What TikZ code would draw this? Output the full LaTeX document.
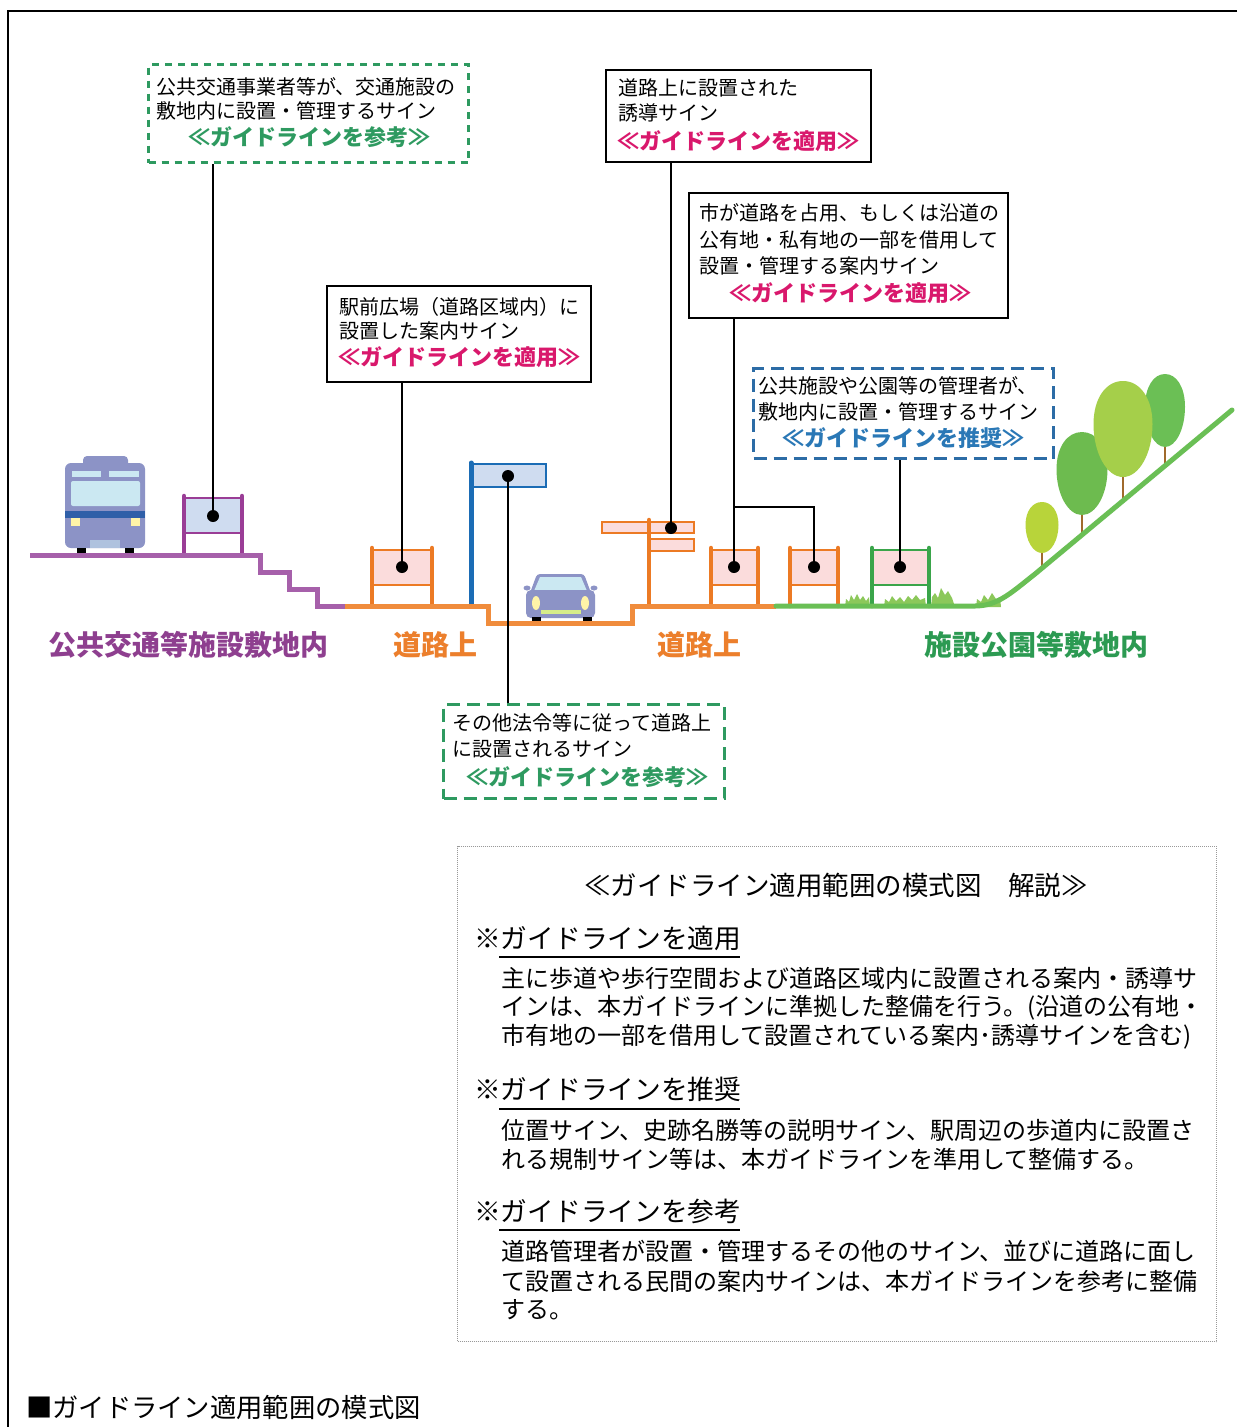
\documentclass[tikz,border=0pt]{standalone}
\usepackage{fontspec}
\newfontfamily\jp{Noto Sans CJK JP}
\usetikzlibrary{calc}

\definecolor{refgreen}{HTML}{2E9A60}
\definecolor{tagpink}{HTML}{D9186C}
\definecolor{tagblue}{HTML}{2A78B6}
\definecolor{boxblue}{HTML}{2C6CA6}
\definecolor{lpurple}{HTML}{A660AA}
\definecolor{spurple}{HTML}{9A3D96}
\definecolor{tpurple}{HTML}{8E3F8F}
\definecolor{lorange}{HTML}{F08C3C}
\definecolor{sorange}{HTML}{EC7A24}
\definecolor{torange}{HTML}{EC7F2C}
\definecolor{lgreen}{HTML}{6ABF55}
\definecolor{sgreen}{HTML}{3AA54A}
\definecolor{tgreen}{HTML}{2C9A52}
\definecolor{grass}{HTML}{8CC85A}
\definecolor{poleblue}{HTML}{1B6CB5}
\definecolor{panelblue}{HTML}{CFDCF0}
\definecolor{panelpink}{HTML}{FBDCDC}
\definecolor{busbody}{HTML}{8C93C6}
\definecolor{busglass}{HTML}{CBE8F2}
\definecolor{busstripe}{HTML}{2F5FA8}
\definecolor{lamp}{HTML}{FFF4A8}
\definecolor{grille}{HTML}{D6EC8A}
\definecolor{treeA}{HTML}{B8D43A}
\definecolor{treeB}{HTML}{6DBB4F}
\definecolor{treeC}{HTML}{A5CF4A}
\definecolor{treeD}{HTML}{6BBF55}
\definecolor{trunk}{HTML}{A06A2C}

% stand board: x1, x2, top, panel bottom, ground, frame colour, panel colour
\newcommand\standboard[7]{%
  \draw[line width=2.5pt, draw=#6, fill=#7] (#1,#3) rectangle (#2,#4);
  \draw[line width=4.5pt, draw=#6, line cap=round] (#1,#3-2) -- (#1,#5);
  \draw[line width=4.5pt, draw=#6, line cap=round] (#2,#3-2) -- (#2,#5);
}

% egg-shaped tree crown: centre x, half width, top, height, colour
\newcommand\crown[5]{%
  \begin{scope}[shift={(#1,#3)}, xscale=#2, yscale=#4]
    \fill[#5] (0,0) .. controls (0.58,0) and (1,0.18) .. (1,0.45)
      .. controls (1,0.75) and (0.55,1) .. (0,1)
      .. controls (-0.55,1) and (-1,0.75) .. (-1,0.45)
      .. controls (-1,0.18) and (-0.58,0) .. (0,0) -- cycle;
  \end{scope}}

\begin{document}
\begin{tikzpicture}[x=1pt, y=-1pt,
  calloutbox/.style={draw=black, line width=1.8pt, fill=white, inner sep=0pt, anchor=north west},
  refbox/.style={calloutbox, draw=refgreen, line width=3pt, dash pattern=on 7pt off 6pt},
  refboxlong/.style={calloutbox, draw=refgreen, line width=3pt, dash pattern=on 13pt off 7pt},
  recbox/.style={calloutbox, draw=boxblue, line width=3pt, dash pattern=on 13pt off 7pt},
  boxtext/.style={font={\jp\fontsize{20}{24}\selectfont}, inner sep=0pt, anchor=west},
  tagtext/.style={font={\jp\bfseries\fontsize{22}{26}\selectfont}, inner sep=0pt, anchor=west},
  zonetext/.style={font={\jp\bfseries\fontsize{28}{32}\selectfont}, inner sep=0pt, anchor=west},
  notetitle/.style={font={\jp\fontsize{26.5}{30}\selectfont}, inner sep=0pt},
  notehead/.style={font={\jp\fontsize{26.7}{30}\selectfont}, inner sep=0pt, anchor=west},
  notebody/.style={font={\jp\fontsize{24}{28}\selectfont}, inner sep=0pt, anchor=west},
  leader/.style={line width=2pt, draw=black},
  dot/.style={circle, fill=black, inner sep=0pt, minimum size=12pt},
  ground/.style={line width=5pt, line join=miter},
]
\useasboundingbox (0,0) rectangle (1237,1427);
\fill[white] (0,0) rectangle (1237,1427);

% outer frame (top and left edges)
\draw[line width=2pt] (1237,11) -- (8,11) -- (8,1427);

% ---------- trees on the slope ----------
\draw[trunk, line width=2.5pt] (1165,440) -- (1165,466);
\draw[trunk, line width=2.5pt] (1082,505) -- (1082,535);
\draw[trunk, line width=2.5pt] (1123,470) -- (1123,501);
\draw[trunk, line width=2.5pt] (1042,548) -- (1042,569);
\crown{1165}{20}{374}{73}{treeD}
\crown{1082}{25.5}{432}{83}{treeB}
\crown{1123}{29.5}{381}{96}{treeC}
\crown{1042}{16.5}{502}{51}{treeA}

% ---------- grass tufts ----------
\fill[grass] (845,607) -- (846,599) -- (849,602) -- (851,595) -- (854,600) -- (857,594) -- (860,600) -- (863,596) -- (866,601) -- (869,597) -- (870,607) -- cycle;
\fill[grass] (884,607) -- (885,599) -- (889,602) -- (892,596) -- (896,601) -- (900,597) -- (904,602) -- (908,596) -- (912,600) -- (916,595) -- (920,600) -- (925,598) -- (926,607) -- cycle;
\fill[grass] (931,607) -- (932,597) -- (935,593) -- (938,598) -- (941,588) -- (945,595) -- (948,591) -- (952,598) -- (955,607) -- cycle;
\fill[grass] (976,607) -- (977,599) -- (981,602) -- (984,595) -- (988,600) -- (992,593) -- (996,599) -- (1000,597) -- (1001,607) -- cycle;

% ---------- bus ----------
\fill[busbody, rounded corners=4pt] (83,456) rectangle (128,472);
\fill[busbody, rounded corners=6pt] (65,463) rectangle (145,548);
\fill[busglass] (72,471) rectangle (101,477);
\fill[busglass] (109,471) rectangle (139,477);
\fill[busglass, rounded corners=2pt] (71,481) rectangle (140,506);
\fill[busstripe] (65,511) rectangle (145,518);
\fill[lamp] (71,518) rectangle (80,526);
\fill[lamp] (131,518) rectangle (140,526);
\fill[busglass!55!busbody] (90,540) rectangle (120,548);
\fill[black] (77,548) rectangle (86,554);
\fill[black] (125,548) rectangle (134,554);

% ---------- car ----------
\fill[busbody] (527,588) ellipse (3.5 and 2.5);
\fill[busbody] (594,588) ellipse (3.5 and 2.5);
\fill[busbody, rounded corners=3pt] (537,574) -- (584,574) -- (591,593) -- (530,593) -- cycle;
\fill[busglass] (540,577) -- (581,577) -- (587,591) -- (534,591) -- cycle;
\fill[busbody, rounded corners=5pt] (526,590) rectangle (595,618);
\fill[lamp] (536,603) ellipse (4 and 7);
\fill[lamp] (585,603) ellipse (4 and 7);
\fill[grille] (541,610) rectangle (581,614);
\fill[black] (532,617) rectangle (541,623);
\fill[black] (583,617) rectangle (592,623);

% ---------- sign boards ----------
\standboard{184}{242}{498}{533}{555}{spurple}{panelblue}
\standboard{372}{432}{550}{585}{606}{sorange}{panelpink}
\standboard{711}{758}{550}{585}{606}{sorange}{panelpink}
\standboard{790}{838}{550}{585}{606}{sorange}{panelpink}
\standboard{872}{929}{550}{585}{606}{sgreen}{panelpink}

% flag-type sign on the road edge
\draw[poleblue, line width=2.5pt, fill=panelblue] (471,464) rectangle (546,487);
\draw[poleblue, line width=5pt, line cap=round] (471,463) -- (471,606);

% finger-post direction sign
\draw[sorange, line width=2.2pt, fill=panelpink] (602,522) rectangle (694,533);
\draw[sorange, line width=2.2pt, fill=panelpink] (649,539) rectangle (694,551);
\draw[sorange, line width=4.5pt, line cap=round] (649,520) -- (649,606);

% ---------- ground profile ----------
\draw[ground, lpurple] (30,555) -- (260,555) -- (260,572) -- (289,572) -- (289,589) -- (317,589) -- (317,606) -- (345,606);
\draw[ground, lorange] (345,606) -- (488,606) -- (488,623) -- (632,623) -- (632,606) -- (776,606);
\draw[ground, lgreen, line cap=round] (776,606) -- (975,606) .. controls (998,606) and (1012,592) .. (1035,574) -- (1232,410);

% ---------- zone labels ----------
\node[zonetext, text=tpurple] (z1) at (48,645) {公共交通等施設敷地内};
\node[zonetext, text=torange] (z2) at (393,645) {道路上};
\node[zonetext, text=torange] (z3) at (657,645) {道路上};
\node[zonetext, text=tgreen] (z4) at (924,645) {施設公園等敷地内};

% ---------- callout boxes ----------
\node[refbox, minimum width=320pt, minimum height=98pt] (b1) at (147,63) {};
\node[boxtext] (b1a) at (156,87) {公共交通事業者等が、交通施設の};
\node[boxtext] (b1b) at (156,111) {敷地内に設置・管理するサイン};
\node[tagtext, text=refgreen] (b1c) at (188,137) {≪ガイドラインを参考≫};

\node[calloutbox, minimum width=264pt, minimum height=96pt] (b2) at (326,285) {};
\node[boxtext] (b2a) at (339,307) {駅前広場（道路区域内）に};
\node[boxtext] (b2b) at (339,331) {設置した案内サイン};
\node[tagtext, text=tagpink] (b2c) at (338,357) {≪ガイドラインを適用≫};

\node[calloutbox, minimum width=265pt, minimum height=92pt] (b3) at (605,69) {};
\node[boxtext] (b3a) at (618,88) {道路上に設置された};
\node[boxtext] (b3b) at (618,113) {誘導サイン};
\node[tagtext, text=tagpink] (b3c) at (617,141) {≪ガイドラインを適用≫};

\node[calloutbox, minimum width=319pt, minimum height=125pt] (b4) at (688,192) {};
\node[boxtext] (b4a) at (699,213) {市が道路を占用、もしくは沿道の};
\node[boxtext] (b4b) at (699,240) {公有地・私有地の一部を借用して};
\node[boxtext] (b4c) at (699,266) {設置・管理する案内サイン};
\node[tagtext, text=tagpink] (b4d) at (729,293) {≪ガイドラインを適用≫};

\node[recbox, minimum width=300pt, minimum height=90pt] (b5) at (752,367) {};
\node[boxtext] (b5a) at (758,386) {公共施設や公園等の管理者が、};
\node[boxtext] (b5b) at (758,412) {敷地内に設置・管理するサイン};
\node[tagtext, text=tagblue] (b5c) at (782,438) {≪ガイドラインを推奨≫};

\node[refboxlong, minimum width=281pt, minimum height=94pt] (b6) at (442,703) {};
\node[boxtext] (b6a) at (452,723) {その他法令等に従って道路上};
\node[boxtext] (b6b) at (452,749) {に設置されるサイン};
\node[tagtext, text=refgreen] (b6c) at (466,777) {≪ガイドラインを参考≫};

% ---------- leader lines and sign dots ----------
\node[dot] (d1) at (213,516) {};
\node[dot] (d2) at (402,567) {};
\node[dot] (d3) at (671,528) {};
\node[dot] (d4) at (734,567) {};
\node[dot] (d5) at (814,567) {};
\node[dot] (d6) at (900,567) {};
\node[dot] (d7) at (508,476) {};
\coordinate (j4) at (734,507);

\draw[leader] (b1.south -| d1) -- (d1);
\draw[leader] (b2.south -| d2) -- (d2);
\draw[leader] (b3.south -| d3) -- (d3);
\draw[leader] (b4.south -| d4) -- (d4);
\draw[leader] (j4) -| (d5);
\draw[leader] (b5.south -| d6) -- (d6);
\draw[leader] (d7) -- (d7 |- b6.north);

% ---------- explanatory note ----------
\node[draw=gray!80, densely dotted, line width=1pt, minimum width=759pt, minimum height=495pt, anchor=north west, inner sep=0pt] (note) at (457,846) {};
\node[notetitle] (nt) at (836,885) {≪ガイドライン適用範囲の模式図　解説≫};

\node[notehead] (h1) at (474,938) {※ガイドラインを適用};
\draw[line width=2pt] (499,957) -- (740,957);
\node[notebody] (p1a) at (501,978) {主に歩道や歩行空間および道路区域内に設置される案内・誘導サ};
\node[notebody] (p1b) at (501,1008) {インは、本ガイドラインに準拠した整備を行う。(沿道の公有地・};
\node[notebody] (p1c) at (501,1037) {市有地の一部を借用して設置されている案内･誘導サインを含む)};

\node[notehead] (h2) at (474,1089) {※ガイドラインを推奨};
\draw[line width=2pt] (499,1109) -- (740,1109);
\node[notebody] (p2a) at (501,1130) {位置サイン、史跡名勝等の説明サイン、駅周辺の歩道内に設置さ};
\node[notebody] (p2b) at (501,1159) {れる規制サイン等は、本ガイドラインを準用して整備する。};

\node[notehead] (h3) at (474,1211) {※ガイドラインを参考};
\draw[line width=2pt] (499,1230) -- (740,1230);
\node[notebody] (p3a) at (501,1251) {道路管理者が設置・管理するその他のサイン、並びに道路に面し};
\node[notebody] (p3b) at (501,1281) {て設置される民間の案内サインは、本ガイドラインを参考に整備};
\node[notebody] (p3c) at (501,1310) {する。};

% ---------- caption ----------
\node[notehead, font={\jp\fontsize{26.3}{30}\selectfont}] (cap) at (26,1407) {■ガイドライン適用範囲の模式図};
\end{tikzpicture}
\end{document}
